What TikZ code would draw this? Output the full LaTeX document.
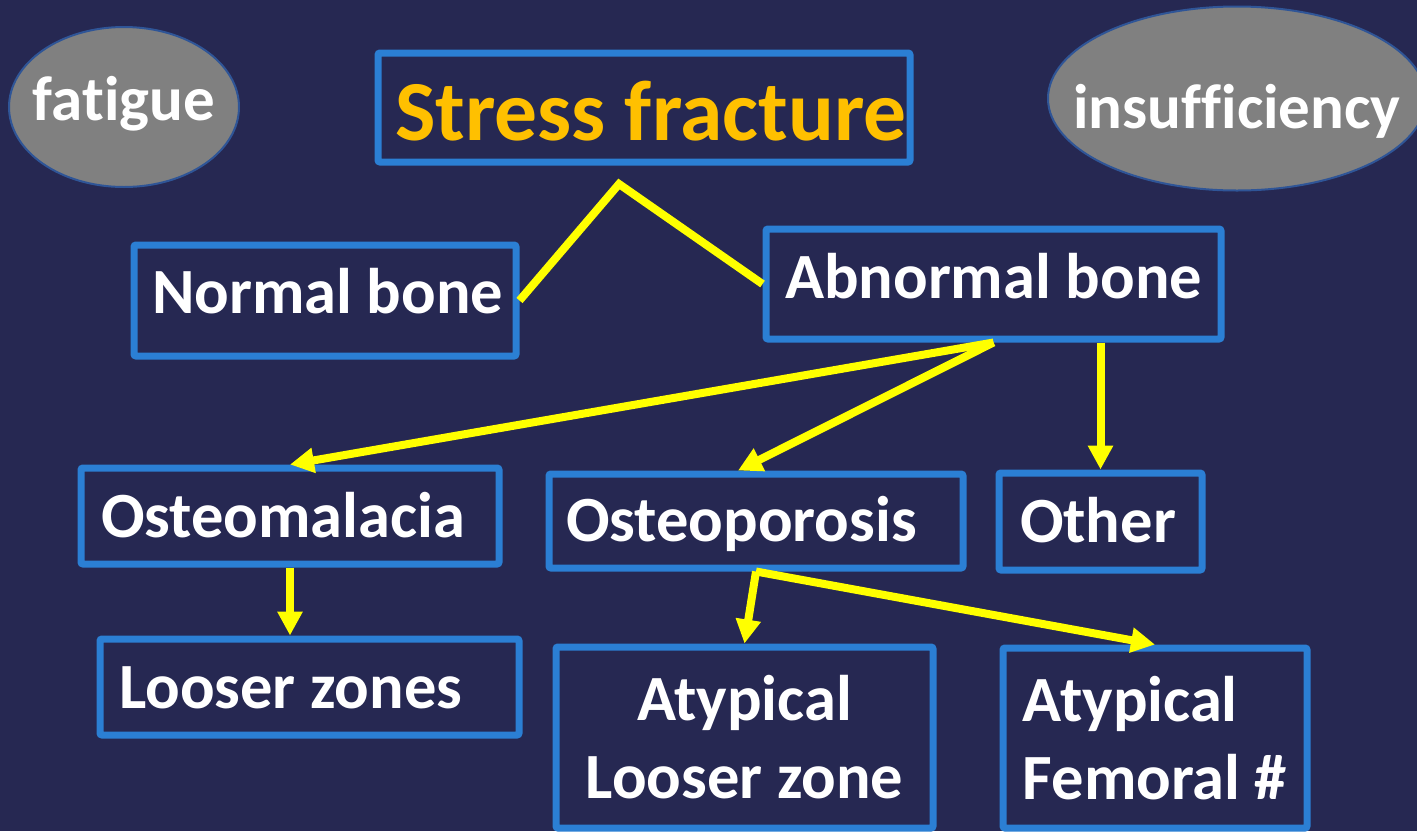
\documentclass[tikz,border=0pt]{standalone}
\usepackage{fontspec}
\setmainfont{Carlito}[Ligatures=NoCommon]
\usetikzlibrary{arrows.meta,shapes.geometric}
\definecolor{bgc}{HTML}{262852}
\definecolor{boxc}{HTML}{2B7FD4}
\definecolor{gold}{HTML}{FFC000}
\definecolor{ellc}{HTML}{808080}
\definecolor{elle}{HTML}{2F5597}
\definecolor{lnk}{HTML}{FFFF00}
\newcommand\lbx[2]{\makebox[#1pt][l]{#2}}
\begin{document}
\begin{tikzpicture}[x=1pt,y=-1pt,
  box/.style={draw=boxc, line width=7pt, rounded corners=2pt, inner ysep=0pt,
    text=white, font=\fontsize{64.5}{78}\selectfont\bfseries},
  oval/.style={ellipse, draw=elle, line width=2pt, fill=ellc, inner sep=0pt},
  ovaltext/.style={text=white, font=\fontsize{63}{72}\selectfont\bfseries, inner sep=0pt},
  link/.style={draw=lnk, line width=8pt},
  arr/.style={link, -{Triangle[width=24pt,length=24pt]}},
]
\fill[bgc] (0,0) rectangle (1417,831);
\useasboundingbox (0,0) rectangle (1417,831);

% ovals
\node[oval, minimum width=230pt, minimum height=160pt,
  label={[ovaltext, name=fatt, text height=39pt, text depth=13pt]center:fatigue}] (fat) at (124,107) {};
\node[oval, minimum width=378pt, minimum height=184pt,
  label={[ovaltext, name=inst, text height=72pt, text depth=13pt]center:insufficiency}] (ins) at (1237,98.5) {};

% boxes
\node[box, minimum width=532pt, minimum height=109pt, inner xsep=17pt,
  text height=87pt, text depth=22pt, text=gold, font=\fontsize{85.5}{100}\selectfont\bfseries]
  (sf) at (644,107.5) {\lbx{498}{Stress fracture}};
\node[box, minimum width=382pt, minimum height=111pt, inner xsep=18pt,
  text height=41pt, text depth=16pt] (nb) at (325,300.5) {\lbx{346}{Normal bone}};
\node[box, minimum width=455pt, minimum height=110pt, inner xsep=19pt,
  text height=44pt, text depth=16pt] (ab) at (993.5,284) {\lbx{417}{Abnormal bone}};
\node[box, minimum width=418pt, minimum height=96pt, inner xsep=20pt,
  text height=58pt, text depth=16pt] (om) at (290,516) {\lbx{378}{Osteomalacia}};
\node[box, minimum width=414pt, minimum height=94pt, inner xsep=17pt,
  text height=56pt, text depth=16pt] (op) at (756,521) {\lbx{380}{Osteoporosis}};
\node[box, minimum width=203pt, minimum height=97pt, inner xsep=21pt,
  text height=57pt, text depth=16pt] (oth) at (1100.5,521.5) {\lbx{161}{Other}};
\node[box, minimum width=419pt, minimum height=96pt, inner xsep=19pt,
  text height=58pt, text depth=16pt] (lz) at (309.5,687) {\lbx{381}{Looser zones}};
\node[box, minimum width=377pt, minimum height=181pt, align=center]
  (al) at (744.5,737.5) {Atypical\\Looser zone};
\node[box, minimum width=304pt, minimum height=180pt, align=left]
  (af) at (1155,738) {Atypical\\Femoral \#};

% connectors
\coordinate (apex) at (619,184);
\draw[link] (nb.east) -- (apex) -- (ab.west);
\draw[arr] (ab.south) -- (om.north);
\draw[arr] (ab.south) -- ([xshift=-18pt]op.north);
\draw[arr] (ab.south -| oth.north) -- (oth.north);
\draw[arr] (om.south) -- (om.south |- lz.north);
\draw[arr] (op.south) -- (al.north);
\draw[arr] (op.south) -- (af.north);
\end{tikzpicture}
\end{document}
